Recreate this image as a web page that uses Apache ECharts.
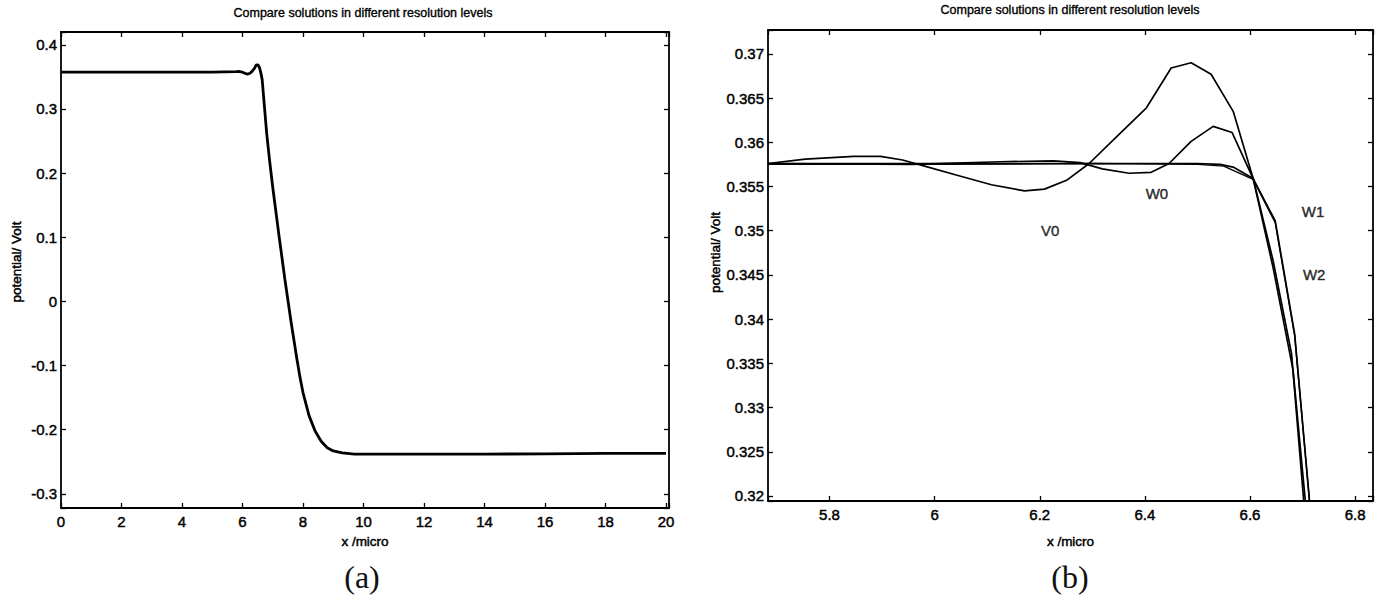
<!DOCTYPE html>
<html><head><meta charset="utf-8">
<script src="https://cdn.jsdelivr.net/npm/echarts@6/dist/echarts.min.js"></script>
<style>html,body{margin:0;padding:0;background:#fff}#c{width:1381px;height:604px}</style>
</head><body><div id="c"></div>
<script>
// ---------- data ----------
const titleText = 'Compare solutions in different resolution levels';
const xName = 'x /micro';
const yName = 'potential/ Volt';
const captions = ['(a)', '(b)'];

// (a) full domain
const leftX = [0, 1, 2, 3, 4, 5, 5.8, 5.9, 6.0, 6.1, 6.18, 6.25, 6.3, 6.35, 6.4, 6.45, 6.49, 6.53, 6.57, 6.61, 6.65, 6.7, 6.8, 6.9, 7.0, 7.2, 7.4, 7.6, 7.7, 7.8, 7.9, 8.0, 8.2, 8.4, 8.6, 8.8, 9.0, 9.3, 9.7, 10, 12, 14, 16, 18, 20];
const leftV = [0.3575, 0.3575, 0.3575, 0.3575, 0.3575, 0.3575, 0.3582, 0.3584, 0.3573, 0.3553, 0.3545, 0.3557, 0.3578, 0.3607, 0.3637, 0.3684, 0.3690, 0.3676, 0.3633, 0.3555, 0.346, 0.318, 0.262, 0.218, 0.178, 0.105, 0.035, -0.03, -0.06, -0.09, -0.118, -0.142, -0.178, -0.202, -0.218, -0.228, -0.233, -0.236, -0.238, -0.238, -0.238, -0.238, -0.2375, -0.237, -0.237];

// (b) zoom
const v0X = [5.683, 5.754, 5.846, 5.897, 5.939, 5.981, 6.041, 6.108, 6.171, 6.209, 6.251, 6.294, 6.344, 6.403, 6.45, 6.488, 6.526, 6.568, 6.606, 6.644, 6.679, 6.702, 6.72];
const v0V = [0.3576, 0.3581, 0.3584, 0.3584, 0.3580, 0.3573, 0.3563, 0.3552, 0.3545, 0.3547, 0.3557, 0.3576, 0.3605, 0.3639, 0.3684, 0.3690, 0.3677, 0.3635, 0.3559, 0.3466, 0.3361, 0.3196, 0.3066];
const w0X = [5.683, 5.956, 6.125, 6.226, 6.277, 6.319, 6.37, 6.412, 6.446, 6.488, 6.53, 6.566, 6.606, 6.644, 6.682, 6.705, 6.72];
const w0V = [0.3576, 0.3575, 0.3578, 0.3579, 0.3577, 0.3570, 0.3565, 0.3566, 0.3576, 0.3601, 0.3618, 0.3611, 0.3559, 0.3458, 0.3342, 0.3196, 0.308];
const w1X = [5.683, 6.0, 6.3, 6.5, 6.543, 6.568, 6.606, 6.648, 6.685, 6.713, 6.725];
const w1V = [0.3576, 0.3576, 0.3576, 0.3576, 0.3575, 0.3572, 0.3559, 0.3511, 0.3383, 0.3196, 0.31];
const w2X = [5.683, 6.0, 6.3, 6.5, 6.55, 6.606, 6.648, 6.685, 6.713, 6.725];
const w2V = [0.3575, 0.3575, 0.3576, 0.3575, 0.3573, 0.3558, 0.3509, 0.3381, 0.3195, 0.31];

const annText = ['V0', 'W0', 'W1', 'W2'];
const annX = [6.22, 6.423, 6.72, 6.722];
const annV = [0.3500, 0.3542, 0.3522, 0.3451];

// ---------- chart ----------
const FONT = '"Liberation Sans", Arial, Helvetica, sans-serif';
const INK = { color: '#000', textBorderColor: '#000', textBorderWidth: 0.45 };
const pair = (xs, ys) => xs.map((x, i) => [x, ys[i]]);
const fmt = (step) => (v) => {
  const k = v / step;
  if (Math.abs(k - Math.round(k)) > 1e-6) return '';
  return String(parseFloat(v.toFixed(4)));
};
function axis(gridIndex, position, min, max, step, showLabel, name, nameGap, labelMargin, namePad) {
  return {
    type: 'value', gridIndex, position, min, max,
    minInterval: step, maxInterval: step,
    scale: true,
    name: name || '', nameLocation: 'middle', nameGap: nameGap || 0,
    nameTextStyle: Object.assign({ fontFamily: FONT, fontSize: 13.5, padding: namePad || 0 }, INK),
    axisLine: { show: true, onZero: false, lineStyle: { color: '#000', width: 1.8 } },
    axisTick: { show: true, inside: true, length: 5, lineStyle: { color: '#000', width: 1.3 } },
    splitLine: { show: false },
    axisLabel: Object.assign({ show: showLabel, formatter: fmt(step), fontFamily: FONT, fontSize: 15, margin: labelMargin || 6 }, INK)
  };
}
const L = { xmin: 0, xmax: 20.1, ymin: -0.322, ymax: 0.42 };
const R = { xmin: 5.683, xmax: 6.834, ymin: 0.31943, ymax: 0.3727 };

const chart = echarts.init(document.getElementById('c'), null, { renderer: 'svg' });
chart.setOption({
  animation: false,
  backgroundColor: '#fff',
  grid: [
    { left: 61, top: 32, width: 608, height: 476 },
    { left: 768, top: 30, width: 605, height: 471 }
  ],
  xAxis: [
    axis(0, 'bottom', L.xmin, L.xmax, 2, true, xName, 26, 6),
    axis(0, 'top', L.xmin, L.xmax, 2, false),
    axis(1, 'bottom', R.xmin, R.xmax, 0.2, true, xName, 33, 6),
    axis(1, 'top', R.xmin, R.xmax, 0.2, false)
  ],
  yAxis: [
    axis(0, 'left', L.ymin, L.ymax, 0.1, true, yName, 38, 4, [0, 0, 0, 16]),
    axis(0, 'right', L.ymin, L.ymax, 0.1, false),
    axis(1, 'left', R.ymin, R.ymax, 0.005, true, yName, 46, 4, [0, 0, 0, 26]),
    axis(1, 'right', R.ymin, R.ymax, 0.005, false)
  ],
  series: [
    { type: 'line', xAxisIndex: 0, yAxisIndex: 0, data: pair(leftX, leftV), showSymbol: false,
      lineStyle: { color: '#000', width: 2.8 }, clip: true },
    { type: 'line', xAxisIndex: 2, yAxisIndex: 2, data: pair(v0X, v0V), showSymbol: false,
      lineStyle: { color: '#000', width: 1.7 }, clip: true },
    { type: 'line', xAxisIndex: 2, yAxisIndex: 2, data: pair(w0X, w0V), showSymbol: false,
      lineStyle: { color: '#000', width: 1.7 }, clip: true },
    { type: 'line', xAxisIndex: 2, yAxisIndex: 2, data: pair(w1X, w1V), showSymbol: false,
      lineStyle: { color: '#000', width: 1.7 }, clip: true },
    { type: 'line', xAxisIndex: 2, yAxisIndex: 2, data: pair(w2X, w2V), showSymbol: false,
      lineStyle: { color: '#000', width: 1.4 }, clip: true },
    { type: 'scatter', xAxisIndex: 2, yAxisIndex: 2, symbolSize: 0,
      data: annText.map((t, i) => ({ name: t, value: [annX[i], annV[i]] })),
      label: Object.assign({ show: true, position: 'inside', formatter: (p) => p.name, fontFamily: FONT, fontSize: 15 }, INK) }
  ],
  graphic: [
    { type: 'text', x: 363, y: 13, style: { text: titleText, font: '12.5px ' + FONT, fill: '#000', stroke: '#000', lineWidth: 0.35, textAlign: 'center', textVerticalAlign: 'middle' } },
    { type: 'text', x: 1070, y: 10, style: { text: titleText, font: '12.5px ' + FONT, fill: '#000', stroke: '#000', lineWidth: 0.35, textAlign: 'center', textVerticalAlign: 'middle' } },
    { type: 'text', x: 362, y: 577, style: { text: captions[0], font: '32px "Liberation Serif", "DejaVu Serif", serif', fill: '#111', textAlign: 'center', textVerticalAlign: 'middle' } },
    { type: 'text', x: 1070, y: 577, style: { text: captions[1], font: '32px "Liberation Serif", "DejaVu Serif", serif', fill: '#111', textAlign: 'center', textVerticalAlign: 'middle' } }
  ]
});
</script></body></html>
